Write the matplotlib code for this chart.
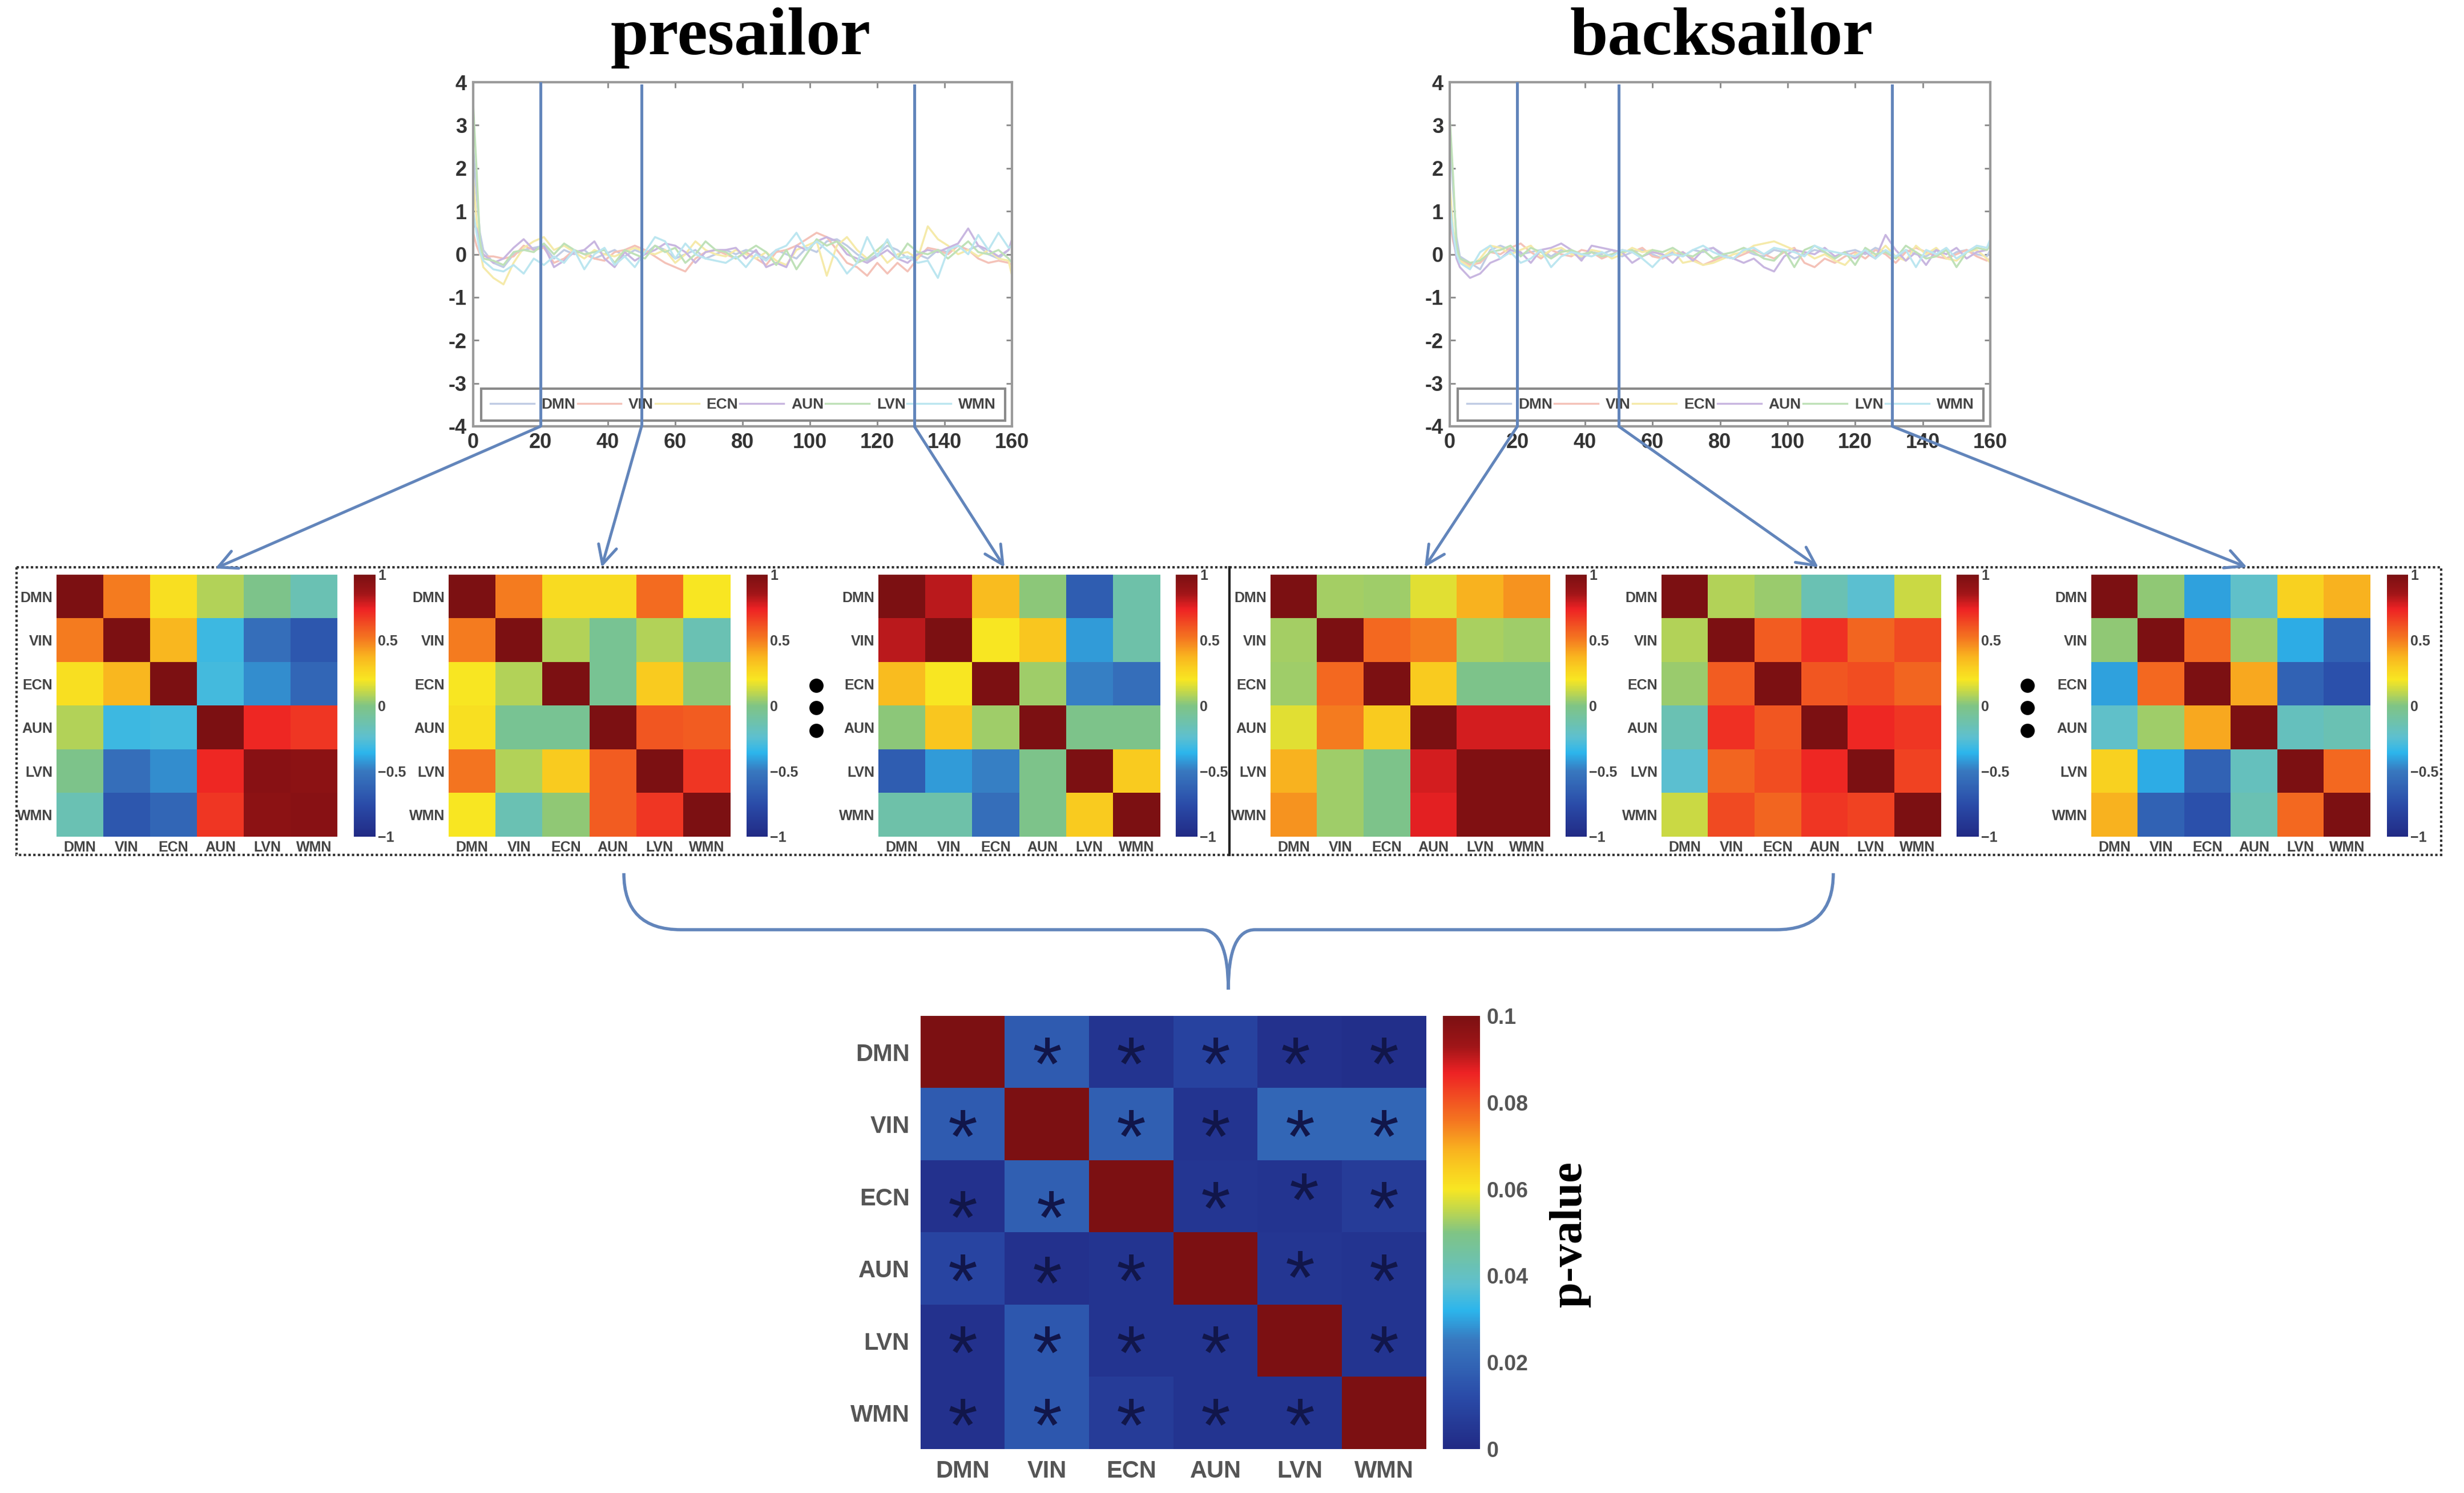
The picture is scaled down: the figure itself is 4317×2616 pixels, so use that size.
import matplotlib
matplotlib.use("Agg")
import matplotlib.pyplot as plt
import numpy as np
from matplotlib.colors import LinearSegmentedColormap
from matplotlib.patches import FancyArrowPatch, PathPatch, Rectangle
from matplotlib.path import Path

plt.rcParams["font.family"] = ["Liberation Sans", "DejaVu Sans"]

W, H = 4317, 2616

NETWORKS = ["DMN", "VIN", "ECN", "AUN", "LVN", "WMN"]
LINE_COLORS = ["#c0cce4", "#f4c2b8", "#f5eaaa", "#c8b6e0", "#bfe1b8", "#bce6f0"]
X_TICKS = [0, 20, 40, 60, 80, 100, 120, 140, 160]
Y_TICKS = [4, 3, 2, 1, 0, -1, -2, -3, -4]
WINDOWS = [20, 50, 131]

TIME = [0, 1, 2, 3, *range(6, 160, 3), 160]

# left time course panel
PRE = {
    "DMN": [2.5, 1.4, 0.5, 0.1, -0.2, -0.3, 0.0,
            0.1, 0.15, 0.2, -0.1, 0.1, 0.0, 0.1, -0.1, 0.0, 0.1,
            -0.05, 0.1, 0.0, 0.2, 0.1, -0.1, 0.0, 0.1, -0.1, 0.0,
            0.1, 0.0, 0.1, 0.05, -0.1, 0.1, 0.0, -0.1, 0.15, 0.05,
            0.3, 0.35, 0.2, 0.0, -0.15, 0.0, 0.2, 0.1, -0.1, 0.0,
            -0.1, 0.1, 0.05, 0.2, 0.1, 0.2, 0.0, -0.1, 0.1, 0.3],
    "VIN": [0.5, 0.2, 0.0, -0.05, -0.05, -0.1, -0.05,
            0.2, 0.1, 0.15, -0.2, -0.1, 0.1, 0.0, -0.1, -0.15, 0.05,
            0.1, 0.2, 0.1, -0.05, -0.2, -0.3, -0.4, -0.1, 0.05, 0.1,
            0.0, -0.1, 0.05, -0.1, -0.25, 0.05, 0.1, 0.2, 0.35, 0.5,
            0.4, 0.1, -0.2, -0.3, -0.5, -0.2, -0.45, -0.2, -0.4, -0.1,
            0.15, 0.1, 0.0, 0.2, 0.1, -0.1, -0.2, -0.15, -0.2, -0.25],
    "ECN": [1.8, 0.8, 0.1, -0.3, -0.55, -0.7, -0.2,
            0.15, 0.3, 0.4, 0.1, 0.2, 0.05, -0.1, 0.1, 0.0, -0.05,
            0.05, 0.15, 0.05, 0.0, 0.1, -0.2, 0.0, 0.3, 0.1, 0.0,
            -0.05, 0.1, 0.0, -0.1, 0.05, -0.15, -0.25, 0.1, 0.2, 0.3,
            -0.5, 0.2, 0.4, 0.1, -0.1, 0.1, -0.2, 0.0, 0.05, -0.1,
            0.65, 0.35, 0.2, 0.0, 0.1, -0.05, 0.1, -0.1, -0.15, -0.5],
    "AUN": [0.7, 0.6, 0.2, 0.0, -0.2, -0.1, 0.15,
            0.35, 0.1, 0.2, -0.3, -0.15, 0.05, 0.1, 0.3, -0.1, -0.3,
            0.05, -0.15, 0.0, 0.1, 0.25, 0.2, 0.05, -0.2, 0.05, 0.1,
            0.1, 0.15, -0.1, 0.1, -0.3, -0.2, -0.3, 0.2, 0.1, 0.3,
            0.4, 0.3, 0.0, -0.1, -0.2, -0.05, 0.1, -0.1, -0.2, 0.0,
            0.1, 0.05, 0.15, 0.25, 0.6, 0.2, 0.1, -0.05, 0.1, 0.35],
    "LVN": [3.5, 2.0, 0.3, -0.1, -0.15, -0.25, 0.05,
            0.1, 0.05, 0.25, 0.0, 0.25, 0.1, 0.0, 0.05, 0.1, -0.2,
            0.1, 0.0, -0.1, 0.2, 0.05, 0.15, -0.2, 0.0, 0.3, 0.1,
            0.05, -0.1, 0.05, 0.2, 0.05, -0.25, 0.1, -0.35, 0.0, 0.35,
            0.2, 0.3, 0.1, -0.2, -0.1, 0.1, 0.3, -0.1, 0.25, 0.05,
            0.0, 0.1, -0.1, 0.1, 0.3, 0.05, 0.0, 0.1, -0.1, -0.2],
    "WMN": [1.0, 0.5, 0.05, -0.15, -0.35, -0.4, -0.25,
            -0.45, -0.1, -0.25, -0.05, -0.2, 0.1, -0.35, 0.0, 0.15, -0.25,
            -0.05, -0.3, 0.05, 0.4, 0.3, -0.1, 0.25, 0.0, -0.1, -0.15,
            -0.2, -0.05, -0.3, 0.0, -0.15, 0.1, 0.2, 0.5, 0.1, 0.3,
            0.1, -0.1, -0.45, -0.2, 0.4, -0.05, 0.35, -0.1, -0.05, -0.2,
            -0.15, -0.55, 0.1, 0.2, 0.0, 0.45, 0.1, 0.5, 0.15, 0.2],
}

# right time course panel
BACK = {
    "DMN": [2.8, 1.5, 0.4, -0.05, -0.2, -0.35, 0.1,
            0.2, 0.1, 0.0, 0.05, 0.1, -0.05, 0.1, 0.05, -0.1, 0.05,
            0.0, 0.1, -0.05, 0.05, 0.1, 0.0, -0.1, 0.05, -0.05, 0.1,
            0.05, 0.15, 0.0, -0.1, 0.1, 0.0, -0.05, 0.1, 0.05, -0.1,
            0.0, 0.1, 0.05, -0.1, 0.05, 0.1, 0.0, 0.15, 0.05, -0.1,
            0.1, 0.0, -0.05, 0.1, -0.1, 0.05, 0.1, 0.0, -0.05, 0.1],
    "VIN": [0.8, 0.3, 0.0, -0.1, -0.25, -0.2, 0.05,
            0.0, 0.15, 0.25, 0.05, -0.1, 0.1, 0.0, -0.05, 0.1, 0.05,
            -0.1, 0.0, 0.1, 0.05, 0.15, -0.05, -0.1, 0.0, 0.05, -0.1,
            -0.25, -0.15, -0.05, -0.1, 0.0, 0.1, 0.0, -0.1, 0.05, 0.15,
            -0.2, -0.3, -0.1, -0.2, -0.05, 0.05, -0.1, 0.1, 0.0, -0.2,
            0.05, 0.15, 0.05, -0.05, -0.1, 0.0, 0.1, -0.05, -0.15, -0.1],
    "ECN": [1.6, 0.6, 0.1, -0.15, -0.3, -0.1, 0.2,
            0.15, 0.0, 0.1, 0.2, -0.05, 0.1, 0.15, 0.0, -0.05, 0.1,
            0.05, -0.1, 0.0, 0.15, 0.05, 0.1, -0.05, 0.1, -0.2, -0.15,
            -0.25, -0.2, -0.1, 0.0, 0.05, 0.2, 0.25, 0.3, 0.2, 0.1,
            0.05, -0.1, 0.0, -0.15, -0.25, 0.0, 0.05, -0.05, 0.2, -0.05,
            -0.15, 0.2, 0.0, 0.15, -0.1, -0.15, 0.05, 0.1, -0.1, -0.2],
    "AUN": [1.0, 0.4, -0.1, -0.3, -0.55, -0.45, -0.2,
            -0.1, 0.1, 0.05, -0.2, 0.1, 0.15, 0.25, 0.1, -0.15, 0.2,
            0.15, 0.1, 0.05, -0.2, -0.05, 0.05, 0.0, -0.2, 0.05, -0.15,
            0.1, 0.15, -0.05, -0.1, -0.2, -0.1, -0.3, -0.4, -0.05, 0.1,
            0.05, 0.0, 0.15, -0.05, 0.05, -0.1, 0.05, -0.1, 0.45, 0.1,
            -0.15, 0.05, -0.25, 0.1, 0.0, 0.15, -0.1, 0.05, 0.1, 0.25],
    "LVN": [3.2, 1.8, 0.2, -0.1, -0.2, -0.15, 0.05,
            0.1, 0.2, -0.05, 0.15, 0.05, -0.1, 0.05, 0.1, 0.0, 0.05,
            -0.05, 0.0, 0.05, 0.1, -0.05, 0.1, 0.05, 0.15, 0.0, -0.05,
            0.1, -0.1, 0.0, 0.05, 0.15, 0.05, -0.1, -0.15, 0.1, -0.3,
            0.1, 0.2, 0.05, -0.1, 0.05, -0.25, 0.15, 0.0, 0.05, -0.1,
            0.2, 0.05, -0.1, -0.05, 0.1, -0.3, 0.05, 0.15, 0.1, 0.2],
    "WMN": [1.2, 0.5, 0.0, -0.2, -0.35, 0.05, 0.2,
            -0.1, 0.05, -0.2, -0.1, 0.1, -0.3, -0.05, 0.05, 0.0, -0.05,
            0.05, -0.05, 0.1, 0.05, -0.1, -0.3, -0.05, 0.0, -0.05, 0.1,
            0.2, 0.05, -0.05, -0.1, 0.1, 0.15, 0.0, 0.15, 0.1, 0.05,
            -0.05, 0.2, 0.1, 0.05, 0.0, -0.05, 0.1, -0.1, 0.1, -0.05,
            0.1, -0.3, 0.1, 0.0, 0.15, -0.1, 0.05, 0.2, 0.15, 0.35],
}

MAT_1 = [[1, .5, .22, .08, -.02, -.15],
         [.5, 1, .36, -.32, -.55, -.68],
         [.22, .36, 1, -.3, -.45, -.6],
         [.08, -.32, -.3, 1, .72, .68],
         [-.02, -.55, -.45, .72, .95, .93],
         [-.15, -.68, -.6, .68, .93, .95]]
MAT_2 = [[1, .5, .24, .24, .54, .2],
         [.5, 1, .08, -.05, .08, -.15],
         [.2, .08, 1, -.05, .3, .03],
         [.22, -.05, -.05, 1, .6, .58],
         [.52, .08, .3, .58, 1, .68],
         [.2, -.15, .03, .58, .68, 1]]
MAT_3 = [[1, .82, .35, .02, -.65, -.12],
         [.82, 1, .2, .32, -.42, -.12],
         [.35, .2, 1, .05, -.48, -.55],
         [.02, .32, .05, 1, -.02, -.02],
         [-.65, -.42, -.48, -.02, 1, .3],
         [-.12, -.12, -.55, -.02, .3, 1]]
MAT_4 = [[1, .06, .05, .16, .38, .45],
         [.06, 1, .55, .5, .07, .05],
         [.05, .55, 1, .3, -.02, -.02],
         [.16, .5, .3, 1, .78, .78],
         [.38, .05, -.02, .78, .98, .98],
         [.45, .05, -.02, .75, .98, .98]]
MAT_5 = [[1, .08, .04, -.15, -.25, .12],
         [.08, 1, .58, .7, .56, .63],
         [.04, .58, 1, .6, .62, .56],
         [-.15, .7, .6, 1, .72, .68],
         [-.25, .56, .62, .72, 1, .65],
         [.12, .63, .56, .68, .65, 1]]
MAT_6 = [[1, .03, -.4, -.22, .28, .38],
         [.03, 1, .55, .05, -.38, -.62],
         [-.4, .55, 1, .4, -.62, -.72],
         [-.22, .05, .4, 1, -.18, -.15],
         [.28, -.38, -.62, -.18, 1, .55],
         [.38, -.62, -.72, -.15, .55, 1]]
P_VALUES = [[.1, .017, .004, .009, .003, .002],
            [.017, .1, .018, .004, .02, .02],
            [.003, .018, .1, .005, .004, .007],
            [.01, .003, .004, .1, .005, .004],
            [.003, .016, .004, .004, .1, .004],
            [.003, .016, .007, .004, .004, .1]]

# cells where the star sits off centre (row, column): shift in cells
STAR_SHIFT = {(2, 0): (0, .12), (2, 1): (.05, .12), (2, 4): (.05, -.12), (3, 4): (0, -.05),
              (0, 4): (-.05, 0), (3, 1): (0, .03)}

# pixel boxes x0, x1 for the small matrices and their colour bars
MAT_Y = (1007, 1466)
MAT_BOXES = [(99, 591, 620, 658), (786, 1279, 1308, 1345), (1539, 2032, 2060, 2098),
             (2226, 2716, 2743, 2780), (2911, 3400, 3428, 3467), (3664, 4153, 4182, 4219)]
TS_BOXES = [(829, 1773), (2540, 3487)]
TS_Y = (144, 747)
ARROW_ENDS = [[(377, 996), (1054, 994), (1760, 994)],
              [(2496, 994), (3186, 994), (3937, 994)]]
LINE_BLUE = "#6285bb"
TEXT_GRAY = "#444444"

jet_like = LinearSegmentedColormap.from_list("jet_like", [
    (0.0, "#212a85"), (0.12, "#2a4ba8"), (0.25, "#3878bf"), (0.32, "#2cb5ec"),
    (0.38, "#5ec0cf"), (0.5, "#80c484"), (0.555, "#c4d84a"), (0.6, "#f8e622"),
    (0.65, "#f9cc20"), (0.69, "#f9b31f"), (0.76, "#f47520"), (0.87, "#ee2224"), (0.93, "#a01518"),
    (1.0, "#7c1012")])

fig = plt.figure(figsize=(W / 100, H / 100), dpi=100)


def px_axes(x0, x1, y0, y1):
    return fig.add_axes([x0 / W, 1 - y1 / H, (x1 - x0) / W, (y1 - y0) / H])


def draw_timecourse(box, series):
    ax = px_axes(box[0], box[1], TS_Y[0], TS_Y[1])
    for name, color in zip(NETWORKS, LINE_COLORS):
        ax.plot(TIME, series[name], color=color, lw=2.5, label=name)
    ax.set_xlim(0, 160)
    ax.set_ylim(-4, 4)
    ax.set_xticks(X_TICKS)
    ax.set_yticks(Y_TICKS)
    ax.set_yticklabels([str(t) for t in Y_TICKS])
    ax.tick_params(direction="in", length=7, width=2, color="#888888", top=True, right=True,
                   labelsize=26, labelcolor="#333333", pad=8)
    for lab in ax.get_xticklabels() + ax.get_yticklabels():
        lab.set_fontweight("bold")
    for s in ax.spines.values():
        s.set_color("#9a9a9a")
        s.set_linewidth(3)
    leg = ax.legend(ncol=6, loc="lower left", bbox_to_anchor=(0.015, 0.017, 0.972, 0.07),
                    mode="expand", handlelength=2.9, handletextpad=0.5, borderaxespad=0,
                    borderpad=0.6, fancybox=False, framealpha=1,
                    edgecolor="#8a8a8a", prop={"weight": "bold", "size": 19})
    leg.get_frame().set_linewidth(3)
    for t in leg.get_texts():
        t.set_color(TEXT_GRAY)
    for t, top in zip(WINDOWS, [1, 0.99, 0.99]):
        ax.axvline(t, ymax=top, color=LINE_BLUE, lw=3.6, zorder=6)


def draw_matrix(box, matrix):
    ax = px_axes(box[0], box[1], MAT_Y[0], MAT_Y[1])
    im = ax.imshow(matrix, cmap=jet_like, vmin=-1, vmax=1, aspect="auto", interpolation="nearest")
    ax.set_xticks(range(6))
    ax.set_xticklabels(NETWORKS)
    ax.set_yticks(range(6))
    ax.set_yticklabels(NETWORKS)
    ax.tick_params(length=0, labelsize=18, labelcolor=TEXT_GRAY, pad=5)
    for lab in ax.get_xticklabels() + ax.get_yticklabels():
        lab.set_fontweight("bold")
    for s in ax.spines.values():
        s.set_visible(False)
    cax = px_axes(box[2], box[3], MAT_Y[0], MAT_Y[1])
    cb = fig.colorbar(im, cax=cax, ticks=[-1, -0.5, 0, 0.5, 1])
    cb.ax.set_yticklabels(["\u22121", "\u22120.5", "0", "0.5", "1"])
    cb.ax.tick_params(length=0, labelsize=18, labelcolor=TEXT_GRAY, pad=3)
    for lab in cb.ax.get_yticklabels():
        lab.set_fontweight("bold")
    cb.outline.set_visible(False)


draw_timecourse(TS_BOXES[0], PRE)
draw_timecourse(TS_BOXES[1], BACK)
for box, mat in zip(MAT_BOXES, [MAT_1, MAT_2, MAT_3, MAT_4, MAT_5, MAT_6]):
    draw_matrix(box, mat)

# group matrix of p-values
ax_p = px_axes(1613, 2499, 1780, 2539)
im_p = ax_p.imshow(P_VALUES, cmap=jet_like, vmin=0, vmax=0.1, aspect="auto", interpolation="nearest")
ax_p.set_xticks(range(6))
ax_p.set_xticklabels(NETWORKS)
ax_p.set_yticks(range(6))
ax_p.set_yticklabels(NETWORKS)
ax_p.tick_params(length=0, labelsize=30, labelcolor="#555555", pad=14)
for lab in ax_p.get_xticklabels() + ax_p.get_yticklabels():
    lab.set_fontweight("bold")
for s in ax_p.spines.values():
    s.set_visible(False)
for i in range(6):
    for j in range(6):
        if i != j:
            dx, dy = STAR_SHIFT.get((i, j), (0, 0))
            ax_p.text(j + dx, i + 0.25 + dy, "*", ha="center", va="center", fontsize=96,
                      color="#11164a")
cax_p = px_axes(2528, 2593, 1780, 2539)
cb_p = fig.colorbar(im_p, cax=cax_p, ticks=[0, 0.02, 0.04, 0.06, 0.08, 0.1])
cb_p.ax.set_yticklabels(["0", "0.02", "0.04", "0.06", "0.08", "0.1"])
cb_p.ax.tick_params(length=0, labelsize=27, labelcolor="#555555", pad=8)
for lab in cb_p.ax.get_yticklabels():
    lab.set_fontweight("bold")
cb_p.outline.set_visible(False)

# overlay in pixel coordinates for titles, box, arrows and the brace
over = fig.add_axes([0, 0, 1, 1], zorder=10)
over.set_xlim(0, W)
over.set_ylim(H, 0)
over.axis("off")
over.patch.set_alpha(0)

over.text(1298, 66, "presailor", ha="center", va="center", fontsize=86, fontweight="bold",
          family="Liberation Serif", color="black")
over.text(3016, 66, "backsailor", ha="center", va="center", fontsize=86, fontweight="bold",
          family="Liberation Serif", color="black")
over.text(2750, 2162, "p-value", ha="center", va="center", rotation=90, fontsize=58,
          fontweight="bold", family="Liberation Serif", color="black")

over.add_patch(Rectangle((29, 994), 4248, 504, fill=False, ec="#333333", lw=3,
                         ls=(0, (1, 1))))
over.plot([2154, 2154], [994, 1498], color="#222222", lw=3)

for box, ends in zip(TS_BOXES, ARROW_ENDS):
    for t, end in zip(WINDOWS, ends):
        x = box[0] + (box[1] - box[0]) * t / 160
        over.add_patch(FancyArrowPatch((x, TS_Y[1]), end, arrowstyle="->,head_length=0.9,head_width=0.45",
                                       mutation_scale=26, lw=3.6, color=LINE_BLUE,
                                       shrinkA=0, shrinkB=0))

for dot_x in [1430, 3552]:
    over.scatter([dot_x] * 3, [1201, 1240, 1280], s=320, color="black", lw=0)

brace = Path([(1093, 1530), (1093, 1629), (1193, 1629), (2105, 1629), (2152, 1629), (2152, 1734),
              (2152, 1629), (2199, 1629), (3112, 1629), (3212, 1629), (3212, 1530)],
             [Path.MOVETO, Path.CURVE3, Path.CURVE3, Path.LINETO, Path.CURVE3, Path.CURVE3,
              Path.CURVE3, Path.CURVE3, Path.LINETO, Path.CURVE3, Path.CURVE3])
over.add_patch(PathPatch(brace, fill=False, ec=LINE_BLUE, lw=4))

fig.savefig("out.png", dpi=100, facecolor="white")
